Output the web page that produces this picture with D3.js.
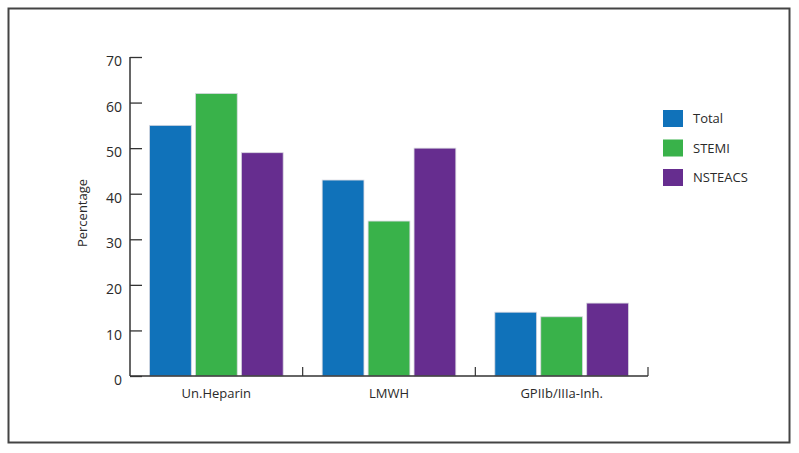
<!DOCTYPE html>
<html>
<head>
<meta charset="utf-8">
<script src="https://cdn.jsdelivr.net/npm/d3@7"></script>
<style>
  body { margin: 0; background: #fff; }
  text { font-family: "Open Sans", sans-serif; fill: #2a2a2a; }
</style>
</head>
<body>
<script>
    // chart data
    var groups = ["Un.Heparin", "LMWH", "GPIIb/IIIa-Inh."];
    var seriesNames = ["Total", "STEMI", "NSTEACS"];
    var totalVals = [55, 43, 14];
    var stemiVals = [62, 34, 13];
    var nsteacsVals = [49, 50, 16];
    var yTicks = [0, 10, 20, 30, 40, 50, 60, 70];
    var colors = ["#1072ba", "#39b24a", "#662d8f"];

    var width = 799, height = 453;
    var fontsize = "13px";

    var data = groups.map(function(g, i){
        return {group: g, values: [totalVals[i], stemiVals[i], nsteacsVals[i]]};
    });

    var svg = d3.select("body")
    .append("svg").attr("width", width).attr("height", height);

    // outer frame
    svg.append("rect")
    .attr("x", 8.5).attr("y", 8.5)
    .attr("width", 781).attr("height", 434)
    .attr("fill", "none").attr("stroke", "#444").attr("stroke-width", 2);

    var x0 = d3.scaleBand().domain(groups).range([130, 648]);
    var x1 = d3.scaleBand().domain(seriesNames).range([19.5, x0.bandwidth() - 19.5]).paddingInner(0.09);
    var y = d3.scaleLinear().domain([0, 70]).range([376, 57]);
    var color = d3.scaleOrdinal().domain(seriesNames).range(colors);

    // bars
    var g = svg.selectAll(".grp").data(data).enter()
    .append("g").attr("class", "grp")
    .attr("transform", function(d){ return "translate(" + x0(d.group) + ",0)"; });

    g.selectAll("rect").data(function(d){
        return d.values.map(function(v, i){ return {name: seriesNames[i], value: v}; });
    }).enter().append("rect")
    .attr("x", function(d){ return x1(d.name); })
    .attr("y", function(d){ return y(d.value); })
    .attr("width", x1.bandwidth())
    .attr("height", function(d){ return y(0) - y(d.value); })
    .attr("fill", function(d){ return color(d.name); })
    .attr("stroke", "#d8d8e0").attr("stroke-width", 0.8);

    // y axis, ticks point inward
    var yAxis = svg.append("g").attr("transform", "translate(130,0)")
    .call(d3.axisLeft(y).tickValues(yTicks).tickSizeInner(-12).tickSizeOuter(0).tickPadding(8));
    yAxis.select(".domain").remove();
    yAxis.selectAll("line").attr("stroke", "#333").attr("stroke-width", 1.3);
    yAxis.selectAll("text").style("font-size", "14px").attr("dy", "0.62em");
    yAxis.append("line").attr("x1", 0).attr("x2", 0).attr("y1", y(70)).attr("y2", y(0))
    .attr("stroke", "#333").attr("stroke-width", 1.5);

    // x axis
    var xAxis = svg.append("g").attr("transform", "translate(0," + y(0) + ")")
    .call(d3.axisBottom(x0).tickSize(0).tickPadding(13));
    xAxis.select(".domain").remove();
    xAxis.selectAll("text").style("font-size", fontsize);
    xAxis.append("line").attr("x1", 130).attr("x2", 648)
    .attr("stroke", "#333").attr("stroke-width", 1.5);
    xAxis.selectAll(".sep").data(groups).enter().append("line").attr("class", "sep")
    .attr("x1", function(d){ return x0(d) + x0.bandwidth(); })
    .attr("x2", function(d){ return x0(d) + x0.bandwidth(); })
    .attr("y1", 0).attr("y2", -9)
    .attr("stroke", "#333").attr("stroke-width", 1.2);

    // y title
    svg.append("text")
    .attr("transform", "translate(87,213) rotate(-90)")
    .attr("text-anchor", "middle")
    .style("font-size", fontsize)
    .text("Percentage");

    // legend
    var legend = svg.selectAll(".legend").data(seriesNames).enter()
    .append("g").attr("class", "legend")
    .attr("transform", function(d, i){ return "translate(663," + (110 + i * 29.5) + ")"; });
    legend.append("rect").attr("width", 20).attr("height", 17)
    .attr("fill", function(d){ return color(d); });
    legend.append("text").attr("x", 30).attr("y", 13)
    .style("font-size", fontsize)
    .text(function(d){ return d; });
</script>
</body>
</html>
